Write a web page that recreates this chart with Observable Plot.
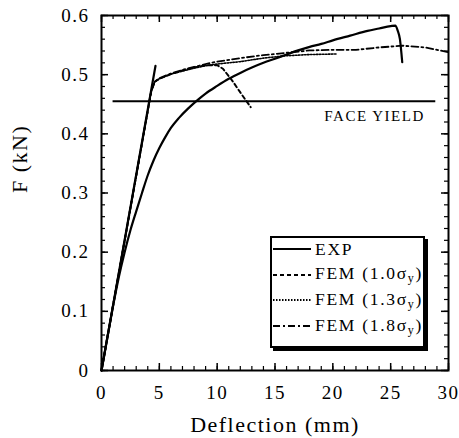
<!DOCTYPE html>
<html><head><meta charset="utf-8">
<script src="https://cdn.jsdelivr.net/npm/d3@7"></script>
<script src="https://cdn.jsdelivr.net/npm/@observablehq/plot@0.6"></script>
<style>
body{margin:0;background:#fff;}
#wrap{position:relative;width:459px;height:438px;font-family:"Liberation Serif","Times New Roman",serif;}
#wrap svg text{letter-spacing:1.5px;}
.legend{position:absolute;left:270px;top:236px;width:151px;height:108px;border:2px solid #000;box-shadow:3px 3px 0 #000;background:#fff;}
.entry{position:absolute;left:0;height:24px;display:flex;align-items:center;font-size:17.5px;letter-spacing:1.7px;color:#000;white-space:nowrap;}
.entry svg{width:38px;height:6px;margin-left:1px;margin-right:4px;}
.entry sub{font-size:12px;vertical-align:-3px;}
</style>
</head><body><div id="wrap"></div>
<script>
// Experimental curve
const expX = [0,0.5,1,1.5,2,2.5,3,3.5,4,4.5,5,5.5,6,6.7,7.5,8.3,9,10,11,12,13,14,15,16,17,18,19,20,21.5,23,24,25,25.4,25.6,25.8,26];
const expF = [0,0.055,0.109,0.158,0.2,0.237,0.269,0.3,0.33,0.355,0.376,0.394,0.41,0.427,0.443,0.457,0.468,0.481,0.493,0.503,0.512,0.52,0.527,0.534,0.541,0.547,0.552,0.558,0.566,0.574,0.578,0.582,0.583,0.575,0.56,0.521];
// Initial stiffness line
const stiffX = [0,4.67];
const stiffF = [0,0.515];
// FEM (1.0 sigma_y)
const fem10X = [0,4.3,4.6,5,6,7,8,9,10,10.5,11.3,12,12.9];
const fem10F = [0,0.472,0.488,0.493,0.501,0.507,0.512,0.516,0.516,0.51,0.49,0.47,0.445];
// FEM (1.3 sigma_y)
const fem13X = [0,4.3,4.6,5,6,7,8,9,10,12,14,16,18,20.4];
const fem13F = [0,0.472,0.488,0.493,0.501,0.506,0.511,0.515,0.518,0.522,0.528,0.532,0.534,0.535];
// FEM (1.8 sigma_y)
const fem18X = [0,4.3,4.6,5,6,7,8,9,10,12,14,16,18,20,22,24,26,28,30];
const fem18F = [0,0.472,0.488,0.494,0.502,0.508,0.513,0.518,0.522,0.528,0.533,0.537,0.541,0.542,0.542,0.546,0.549,0.546,0.538];
// Face yield level
const faceYieldF = 0.455;
const faceYieldRange = [1, 28.9];
const faceYieldLabel = "FACE YIELD";

const xTicks = [0,5,10,15,20,25,30];
const xTickLabels = ["0","5","10","15","20","25","30"];
const yTicks = [0,0.1,0.2,0.3,0.4,0.5,0.6];
const yTickLabels = ["0","0.1","0.2","0.3","0.4","0.5","0.6"];
const xLabel = "Deflection (mm)";
const yLabel = "F (kN)";

const legendLabels = ["EXP","FEM (1.0σ<sub>y</sub>)","FEM (1.3σ<sub>y</sub>)","FEM (1.8σ<sub>y</sub>)"];
const legendDash = ["none","4,3","1.5,1.5","7,3,2,3"];

const pts = (xs, ys) => xs.map((x,i)=>({x, y: ys[i]}));

const W=459,H=438,mL=101,mR=11,mT=15,mB=68;
const FW=W-mL-mR, FH=H-mT-mB;
const xMinor = d3.range(0,31,1);
const yMinor = d3.range(0,31,1).map(i=>+(i*0.02).toFixed(2));

const chart = Plot.plot({
  width: W, height: H,
  marginLeft: mL, marginRight: mR, marginTop: mT, marginBottom: mB,
  style: {fontFamily: '"Liberation Serif","Times New Roman",serif', fontSize: "19px", background: "#fff", color: "#000"},
  x: {domain: [0,30], axis: null},
  y: {domain: [0,0.6], axis: null},
  marks: [
    Plot.frame({stroke: "#000", strokeWidth: 2}),
    // inward ticks
    Plot.tickX(xMinor, {x: d=>d, insetTop: FH-4, stroke:"#000", strokeWidth:1.2}),
    Plot.tickX(xTicks, {x: d=>d, insetTop: FH-7, stroke:"#000", strokeWidth:1.5}),
    Plot.tickX(xMinor, {x: d=>d, insetBottom: FH-4, stroke:"#000", strokeWidth:1.2}),
    Plot.tickX(xTicks, {x: d=>d, insetBottom: FH-7, stroke:"#000", strokeWidth:1.5}),
    Plot.tickY(yMinor, {y: d=>d, insetRight: FW-4, stroke:"#000", strokeWidth:1.2}),
    Plot.tickY(yTicks, {y: d=>d, insetRight: FW-7, stroke:"#000", strokeWidth:1.5}),
    Plot.tickY(yMinor, {y: d=>d, insetLeft: FW-4, stroke:"#000", strokeWidth:1.2}),
    Plot.tickY(yTicks, {y: d=>d, insetLeft: FW-7, stroke:"#000", strokeWidth:1.5}),
    Plot.axisX(xTicks, {tickSize: 0, tickPadding: 15, tickFormat: (d,i)=>xTickLabels[i], label: null, fontSize: 19}),
    Plot.axisY(yTicks, {tickSize: 0, tickPadding: 12, tickFormat: (d,i)=>yTickLabels[i], label: null, fontSize: 19}),
    Plot.text([xLabel], {frameAnchor: "bottom", dy: 61, fontSize: 22, text: d=>d}),
    Plot.text([yLabel], {frameAnchor: "left", dx: -82, rotate: -90, fontSize: 22, text: d=>d}),
    // face yield
    Plot.ruleY([faceYieldF], {x1: faceYieldRange[0], x2: faceYieldRange[1], stroke:"#000", strokeWidth: 2}),
    Plot.text([faceYieldLabel], {x: faceYieldRange[1], y: faceYieldF, text: d=>d, textAnchor: "end", dx: -11, dy: 15, fontSize: 15}),
    // curves
    Plot.line(pts(fem18X, fem18F), {x:"x", y:"y", stroke:"#000", strokeWidth:1.8, strokeDasharray:"7,3,2,3"}),
    Plot.line(pts(fem13X, fem13F), {x:"x", y:"y", stroke:"#000", strokeWidth:1.6, strokeDasharray:"1.5,1.5"}),
    Plot.line(pts(fem10X, fem10F), {x:"x", y:"y", stroke:"#000", strokeWidth:2, strokeDasharray:"4,3"}),
    Plot.line(pts(stiffX, stiffF), {x:"x", y:"y", stroke:"#000", strokeWidth:2.2}),
    Plot.line(pts(expX, expF), {x:"x", y:"y", stroke:"#000", strokeWidth:2.2, curve:"monotone-x"})
  ]
});
const wrap = document.getElementById("wrap");
wrap.appendChild(chart);

const leg = document.createElement("div");
leg.className = "legend";
legendLabels.forEach((lab,i)=>{
  const e = document.createElement("div");
  e.className = "entry";
  e.style.top = (-1 + 25.7*i) + "px";
  const dash = legendDash[i]==="none" ? "" : `stroke-dasharray="${legendDash[i]}"`;
  e.innerHTML = `<svg viewBox="0 0 38 6"><line x1="0" y1="3" x2="38" y2="3" stroke="#000" stroke-width="${i==0?2:1.8}" ${dash}/></svg><span>${lab}</span>`;
  leg.appendChild(e);
});
wrap.appendChild(leg);
</script>
</body></html>
